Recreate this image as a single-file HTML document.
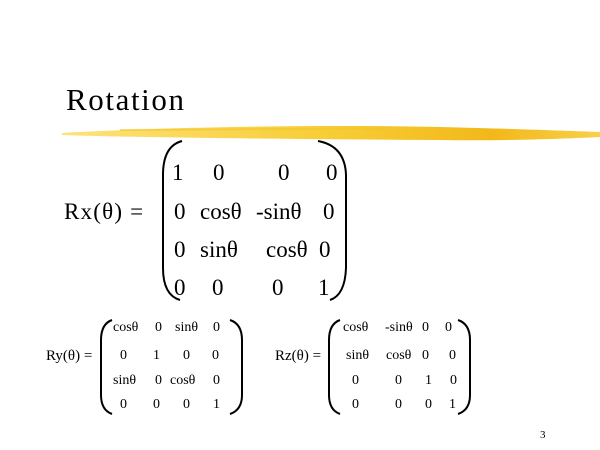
<!DOCTYPE html>
<html><head><meta charset="utf-8"><style>
html,body{margin:0;padding:0;background:#fff;}
svg{display:block;}
text{font-family:"Liberation Serif",serif;fill:#000;}
</style></head><body>
<svg width="600" height="450" viewBox="0 0 600 450" xmlns="http://www.w3.org/2000/svg">
<defs>
<linearGradient id="g" x1="0" x2="1" y1="0" y2="0">
<stop offset="0" stop-color="#fde27a"/>
<stop offset="0.5" stop-color="#f7cd35"/>
<stop offset="0.8" stop-color="#f2b81a"/>
<stop offset="1" stop-color="#f8d04a"/>
</linearGradient>
</defs>
<text x="66" y="110" font-size="31" letter-spacing="1.6">Rotation</text>
<path d="M62 133 C150 128 300 124 440 127 C520 129 570 131 600 132 L600 137 C560 139 500 141 440 140 C300 139 150 138 62 135 Z" fill="url(#g)"/>
<path d="M120 130 L420 128" stroke="#f3c52a" stroke-width="2" opacity="0.6"/>

<!-- Rx -->
<text x="64" y="219" font-size="23" letter-spacing="1.2">Rx(θ) =</text>
<path d="M182 141 Q163 146 163 175 L163 268 Q163 295 180 300" fill="none" stroke="#000" stroke-width="2"/>
<path d="M318 141 Q345 146 346 175 L346 268 Q345 295 330 300" fill="none" stroke="#000" stroke-width="2"/>
<g font-size="23">
<text x="172" y="180">1</text><text x="213" y="180">0</text><text x="278" y="180">0</text><text x="326" y="180">0</text>
<text x="174" y="219">0</text><text x="200" y="219">cosθ</text><text x="256" y="219">-sinθ</text><text x="323" y="219">0</text>
<text x="174" y="257">0</text><text x="200" y="257">sinθ</text><text x="266" y="257">cosθ</text><text x="319" y="257">0</text>
<text x="174" y="295">0</text><text x="212" y="295">0</text><text x="272" y="295">0</text><text x="318" y="295">1</text>
</g>

<!-- Ry -->
<text x="46" y="360" font-size="15">Ry(θ) =</text>
<path d="M112 320 Q101 324 101 340 L101 395 Q101 410 112 414" fill="none" stroke="#000" stroke-width="2"/>
<path d="M230 320 Q242 324 242 340 L242 395 Q242 410 230 414" fill="none" stroke="#000" stroke-width="2"/>
<g font-size="14">
<text x="113" y="331">cosθ</text><text x="155" y="331">0</text><text x="175" y="331">sinθ</text><text x="213" y="331">0</text>
<text x="120" y="359">0</text><text x="153" y="359">1</text><text x="183" y="359">0</text><text x="212" y="359">0</text>
<text x="113" y="384">sinθ</text><text x="155" y="384">0</text><text x="170" y="384">cosθ</text><text x="213" y="384">0</text>
<text x="120" y="408">0</text><text x="153" y="408">0</text><text x="183" y="408">0</text><text x="213" y="408">1</text>
</g>

<!-- Rz -->
<text x="275" y="360" font-size="15">Rz(θ) =</text>
<path d="M340 320 Q329 324 329 340 L329 395 Q329 410 340 414" fill="none" stroke="#000" stroke-width="2"/>
<path d="M458 320 Q470 324 470 340 L470 395 Q470 410 458 414" fill="none" stroke="#000" stroke-width="2"/>
<g font-size="14">
<text x="343" y="331">cosθ</text><text x="385" y="331">-sinθ</text><text x="422" y="331">0</text><text x="445" y="331">0</text>
<text x="346" y="359">sinθ</text><text x="386" y="359">cosθ</text><text x="422" y="359">0</text><text x="449" y="359">0</text>
<text x="352" y="384">0</text><text x="395" y="384">0</text><text x="425" y="384">1</text><text x="450" y="384">0</text>
<text x="352" y="408">0</text><text x="395" y="408">0</text><text x="425" y="408">0</text><text x="449" y="408">1</text>
</g>

<text x="540" y="438" font-size="11">3</text>
</svg>
</body></html>
